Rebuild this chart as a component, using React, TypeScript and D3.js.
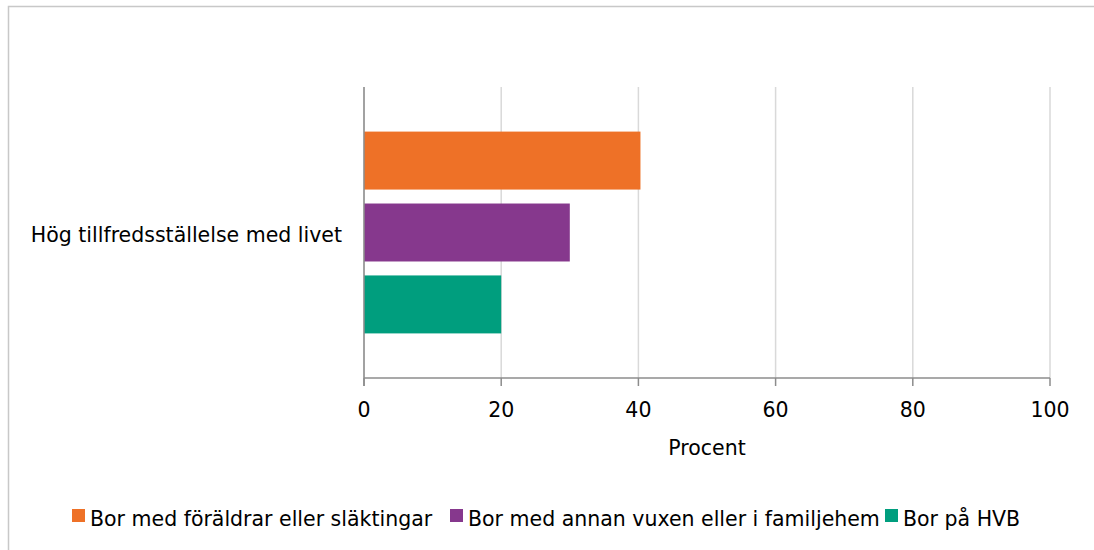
import React from "react";
import * as d3 from "d3";

const categories = ["Hög tillfredsställelse med livet"];
const seriesNames = [
  "Bor med föräldrar eller släktingar",
  "Bor med annan vuxen eller i familjehem",
  "Bor på HVB",
];
const seriesColors = ["#EE7127", "#86388D", "#009E7E"];
const seriesValues = [[40.3], [30.0], [20.0]];
const xTicks = [0, 20, 40, 60, 80, 100];
const xTitle = "Procent";

const W = 1094;
const H = 550;
const FONT = "'DejaVu Sans', sans-serif";
const FS = 20.5;

export default function App() {
  const x = d3.scaleLinear().domain([0, 100]).range([364, 1050]);
  const y = d3.scaleBand().domain(categories).range([87, 378]);
  const inner = d3
    .scaleBand()
    .domain(seriesNames)
    .range([0, y.bandwidth()])
    .paddingInner(0.194)
    .paddingOuter(0.62);

  const legendX = [72, 450, 885];

  return (
    <svg
      width={W}
      height={H}
      style={{ position: "absolute", left: 0, top: 0, fontFamily: FONT }}
    >
      <rect x={0} y={0} width={W} height={H} fill="#fff" />
      <path d={`M8.5,${H} V6.5 H${W}`} fill="none" stroke="#c8c8c8" strokeWidth={1.5} />
      {xTicks.map((t) => (
        <line key={"g" + t} x1={x(t)} x2={x(t)} y1={87} y2={378} stroke="#d9d9d9" strokeWidth={1.5} />
      ))}
      {categories.map((c, ci) =>
        seriesNames.map((s, si) => (
          <rect
            key={c + s}
            x={x(0)}
            y={(y(c) ?? 0) + (inner(s) ?? 0)}
            width={x(seriesValues[si][ci]) - x(0)}
            height={inner.bandwidth()}
            fill={seriesColors[si]}
          />
        ))
      )}
      <line x1={x(0)} x2={x(0)} y1={87} y2={386} stroke="#8c8c8c" strokeWidth={1.5} />
      <line x1={x(0)} x2={x(100)} y1={378} y2={378} stroke="#8c8c8c" strokeWidth={1.5} />
      {xTicks.map((t) => (
        <g key={"t" + t}>
          <line x1={x(t)} x2={x(t)} y1={378} y2={386} stroke="#8c8c8c" strokeWidth={1.5} />
          <text x={x(t)} y={417} textAnchor="middle" fontSize={FS} fill="#000">
            {t}
          </text>
        </g>
      ))}
      <text x={x(50)} y={455} textAnchor="middle" fontSize={FS} fill="#000">
        {xTitle}
      </text>
      {categories.map((c) => (
        <text key={c} x={342} y={(y(c) ?? 0) + y.bandwidth() / 2 + 9.5} textAnchor="end" fontSize={FS} fill="#000">
          {c}
        </text>
      ))}
      {seriesNames.map((s, i) => (
        <g key={"l" + s}>
          <rect x={legendX[i]} y={509} width={13} height={13} fill={seriesColors[i]} />
          <text x={legendX[i] + 18} y={526} fontSize={FS} fill="#000">
            {s}
          </text>
        </g>
      ))}
    </svg>
  );
}
